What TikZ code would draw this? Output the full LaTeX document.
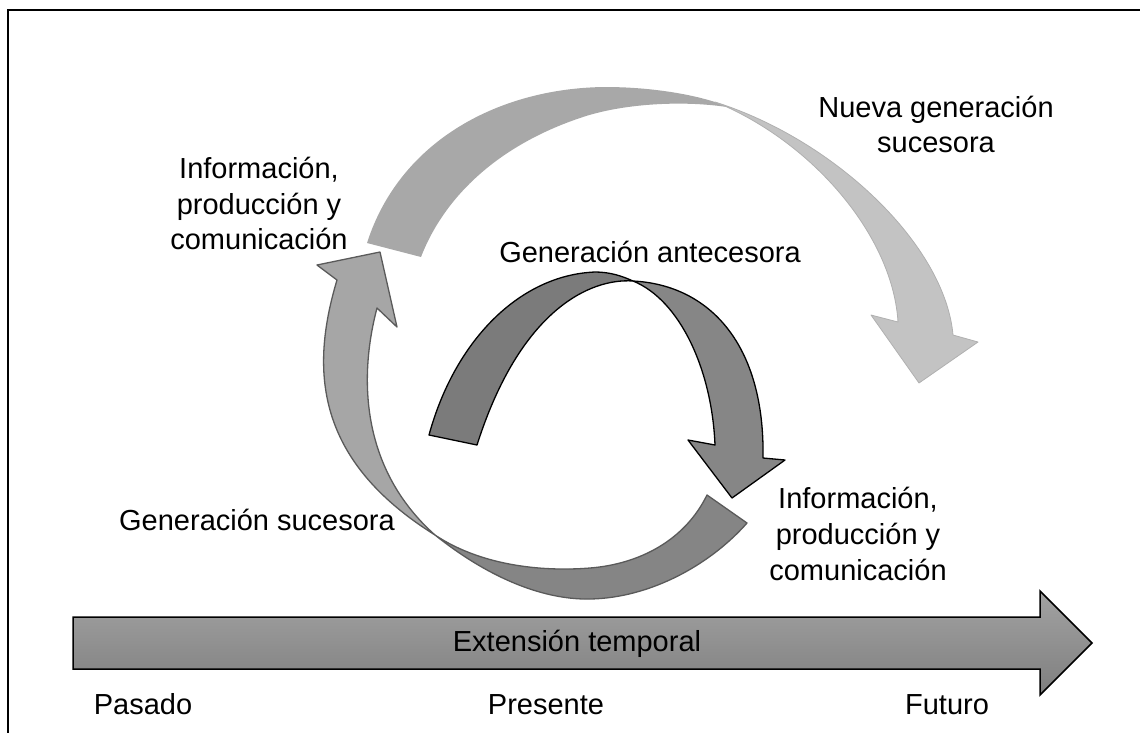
\documentclass[tikz,border=0pt]{standalone}
\usepackage{fontspec}
\setmainfont{Liberation Sans}
\definecolor{upBack}{HTML}{A8A8A8}
\definecolor{upFront}{HTML}{C3C3C3}
\definecolor{upEdge}{HTML}{B0B0B0}
\definecolor{loLeft}{HTML}{A6A6A6}
\definecolor{loBottom}{HTML}{858585}
\definecolor{loEdge}{HTML}{5A5A5A}
\definecolor{inBack}{HTML}{7B7B7B}
\definecolor{inFront}{HTML}{868686}
\definecolor{tlTop}{HTML}{A2A2A2}
\definecolor{tlBot}{HTML}{7F7F7F}
\begin{document}
\begin{tikzpicture}[x=1pt,y=-1pt,
  lbl/.style={font=\fontsize{29}{35}\selectfont, inner sep=0pt, anchor=base},
  frameline/.style={line width=2pt, line cap=rect},
  upperband/.style={fill=upFront, draw=upEdge, line width=0.8pt, line join=round},
  lowerband/.style={draw=loEdge, line width=1.3pt, line join=round},
  innerband/.style={draw=black, line width=1.3pt, line join=round},
  timeline/.style={top color=tlTop, bottom color=tlBot, draw=black, line width=1.5pt, line join=miter}]
\useasboundingbox (0,0) rectangle (1140,732);

% open frame (left and top sides)
\draw[frameline] (8,732) -- (8,10) -- (1140,10);

% large light arc: back of the ribbon, then the front with its head
\fill[upBack] (367,243) .. controls (400,140) and (500,88) .. (605,87)
  .. controls (650,87) and (690,94) .. (715,102) -- (727,107)
  .. controls (680,100) and (620,104) .. (580,118)
  .. controls (500,145) and (445,195) .. (421,257) -- cycle;
\filldraw[upperband] (715,102) .. controls (835,140) and (945,245) .. (953,335)
  -- (978,342) -- (919,383) -- (871,315) -- (898,322)
  .. controls (893,240) and (820,150) .. (727,107) -- cycle;

% lower arc: rising leg with head, then the bottom band
\filldraw[lowerband, fill=loLeft] (380,252) -- (397,327) -- (377,308)
  .. controls (358,380) and (362,470) .. (435,535)
  .. controls (315,460) and (310,370) .. (337,280) -- (317,265) -- cycle;
\filldraw[lowerband, fill=loBottom] (435,535) .. controls (485,575) and (540,600) .. (590,599)
  .. controls (650,598) and (710,565) .. (747,523) -- (707,495)
  .. controls (685,540) and (640,564) .. (590,568)
  .. controls (540,572) and (480,565) .. (435,535) -- cycle;

% inner dark arc
\filldraw[innerband, fill=inBack] (429,435) .. controls (455,340) and (520,275) .. (595,272)
  .. controls (610,272) and (622,276) .. (633,281)
  .. controls (590,278) and (520,310) .. (477,445) -- cycle;
\filldraw[innerband, fill=inFront] (633,281) .. controls (710,285) and (765,345) .. (763,458)
  -- (785,460) -- (732,498) -- (688,440) -- (715,445)
  .. controls (712,370) and (680,300) .. (633,281) -- cycle;

% time axis
\filldraw[timeline] (73,617) -- (1040,617) -- (1040,591) -- (1092,643)
  -- (1040,695) -- (1040,669) -- (73,669) -- cycle;

% labels
\node[lbl] (infoL1) at (259,178) {Información,};
\node[lbl] (infoL2) at (259,214) {producción y};
\node[lbl] (infoL3) at (259,249) {comunicación};
\node[lbl] (nueva1) at (936,117) {Nueva generación};
\node[lbl] (nueva2) at (936,152) {sucesora};
\node[lbl] (antec) at (650,262) {Generación antecesora};
\node[lbl] (suces) at (257,530) {Generación sucesora};
\node[lbl] (infoR1) at (858,508) {Información,};
\node[lbl] (infoR2) at (858,544) {producción y};
\node[lbl] (infoR3) at (858,580) {comunicación};
\node[lbl] (ext) at (577,651) {Extensión temporal};
\node[lbl] (pas) at (143,714) {Pasado};
\node[lbl] (pre) at (546,714) {Presente};
\node[lbl] (fut) at (947,714) {Futuro};
\end{tikzpicture}
\end{document}
